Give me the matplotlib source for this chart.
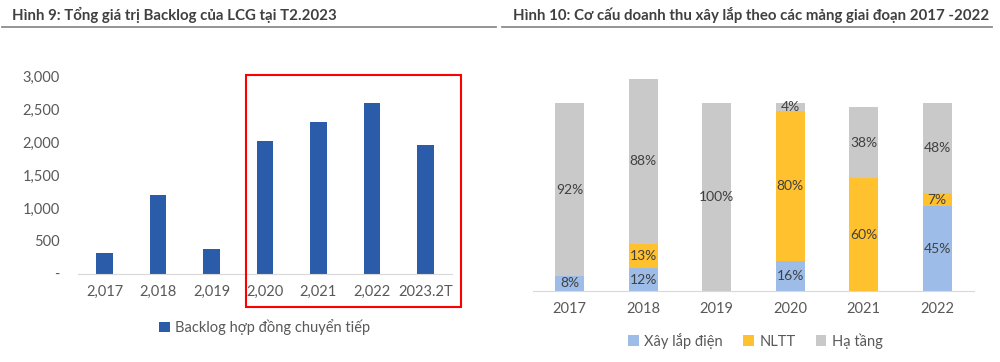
import matplotlib.pyplot as plt
from matplotlib.patches import Rectangle
from matplotlib.lines import Line2D
import numpy as np

plt.rcParams['font.family'] = ['Lato', 'DejaVu Sans']

# --- Data ---
backlog_labels = ["2,017", "2,018", "2,019", "2,020", "2,021", "2,022", "2023.2T"]
backlog_values = [315, 1205, 370, 2025, 2305, 2595, 1965]

mix_years = ["2017", "2018", "2019", "2020", "2021", "2022"]
xay_lap_dien = [8, 12, 0, 16, 0, 45]
nltt = [0, 13, 0, 80, 60, 7]
ha_tang = [92, 88, 100, 4, 38, 48]

TEXT = "#404040"
W, H = 1000, 362

fig = plt.figure(figsize=(10, 3.62), dpi=100)

def fx(px):
    return px / W

def fy(py):
    return 1 - py / H

# titles + divider lines
fig.text(fx(12), fy(15), "Hình 9: Tổng giá trị Backlog của LCG tại T2.2023",
         fontsize=10.8, fontweight="bold", color=TEXT, va="center")
fig.text(fx(513), fy(15), "Hình 10: Cơ cấu doanh thu xây lắp theo các mảng giai đoạn 2017 -2022",
         fontsize=10.8, fontweight="bold", color=TEXT, va="center")
fig.add_artist(Line2D([fx(2), fx(496)], [fy(27), fy(27)], color="#8c8c8c", lw=1.3))
fig.add_artist(Line2D([fx(502), fx(992)], [fy(27), fy(27)], color="#8c8c8c", lw=1.3))

# --- Left chart ---
ax1 = fig.add_axes([fx(78), fy(273.7), fx(452 - 78), (273.7 - 76.7) / H])
x1 = np.arange(len(backlog_labels))
ax1.bar(x1, backlog_values, width=0.31, color="#2A5CAA", label="Backlog hợp đồng chuyển tiếp")
ax1.set_xlim(-0.5, len(backlog_labels) - 0.5)
ax1.set_ylim(0, 3000)
ax1.set_yticks([0, 500, 1000, 1500, 2000, 2500, 3000])
ax1.set_yticklabels(["-", "500", "1,000", "1,500", "2,000", "2,500", "3,000"])
ax1.set_xticks(x1)
ax1.set_xticklabels(backlog_labels)
for s in ["top", "right", "left"]:
    ax1.spines[s].set_visible(False)
ax1.spines["bottom"].set_color("#d9d9d9")
ax1.tick_params(axis="both", length=0, labelsize=10.5, colors="#595959", pad=8)
ax1.tick_params(axis="y", pad=13)
ax1.legend(loc="center", bbox_to_anchor=(0.5, -0.27), frameon=False, fontsize=10.5,
           handlelength=0.7, handleheight=0.7, handletextpad=0.4, labelcolor="#595959")

# red highlight box
fig.add_artist(Rectangle((fx(246), fy(307)), fx(461 - 246), (307 - 75) / H,
                         fill=False, edgecolor="#ff0000", lw=1.5))

# --- Right chart ---
ax2 = fig.add_axes([fx(533), fy(291), fx(974 - 533), (291 - 60) / H])
x2 = np.arange(len(mix_years))
b1 = np.array(xay_lap_dien)
b2 = np.array(nltt)
b3 = np.array(ha_tang)
colors = ["#9DBDE8", "#FFC12E", "#C9C9C9"]
names = ["Xây lắp điện", "NLTT", "Hạ tầng"]
bottom = np.zeros(len(mix_years))
for vals, c, n in zip([b1, b2, b3], colors, names):
    ax2.bar(x2, vals, bottom=bottom, width=0.4, color=c, label=n)
    for xi, v, b in zip(x2, vals, bottom):
        if v > 0:
            ax2.text(xi, b + v / 2, f"{v}%", ha="center", va="center",
                     fontsize=10, color=TEXT)
    bottom = bottom + vals
ax2.set_xlim(-0.5, len(mix_years) - 0.5)
ax2.set_ylim(0, 123)
ax2.set_yticks([])
ax2.set_xticks(x2)
ax2.set_xticklabels(mix_years)
for s in ["top", "right", "left"]:
    ax2.spines[s].set_visible(False)
ax2.spines["bottom"].set_color("#d9d9d9")
ax2.tick_params(axis="x", length=0, labelsize=10.5, colors="#595959", pad=8)
ax2.legend(loc="center", bbox_to_anchor=(0.505, -0.215), ncol=3, frameon=False, fontsize=10.5,
           handlelength=0.7, handleheight=0.7, handletextpad=0.4, columnspacing=1.4,
           labelcolor="#595959")

fig.savefig("out.png", dpi=100)
